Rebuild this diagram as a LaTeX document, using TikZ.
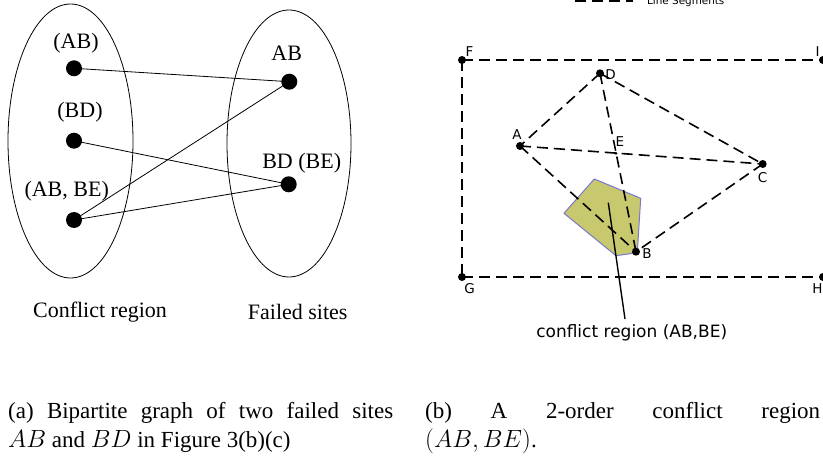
\documentclass[tikz,border=0pt]{standalone}
\usepackage{fontspec}
\setmainfont{Liberation Serif}
\newfontfamily\dejavu{DejaVu Sans}
\usetikzlibrary{shapes.geometric}
\definecolor{polyfill}{RGB}{200,200,110}
\definecolor{polyedge}{RGB}{120,120,205}
\begin{document}
\begin{tikzpicture}[x=1pt,y=-1pt,
  dotL/.style={circle, fill=black, inner sep=0pt, minimum size=16pt},
  dotR/.style={circle, fill=black, inner sep=0pt, minimum size=8pt},
  dotS/.style={circle, fill=black, inner sep=0pt, minimum size=3pt},
  edgeL/.style={line width=0.8pt},
  ellbox/.style={draw, ellipse, line width=0.8pt, inner sep=0pt},
  seg/.style={dash pattern=on 11pt off 6pt, line width=1.6pt},
  lblL/.style={font=\fontsize{22}{26}\selectfont, inner sep=0pt},
  lblR/.style={font=\dejavu\fontsize{13.5}{16}\selectfont, inner sep=0pt},
  capt/.style={font=\fontsize{23}{28}\selectfont, inner sep=0pt, anchor=base west}
]
\useasboundingbox (0,0) rectangle (823,457);

% ---------- (a) bipartite graph ----------
\node[ellbox, minimum width=125pt, minimum height=274pt] (ellL) at (70.5,141) {};
\node[ellbox, minimum width=124pt, minimum height=267pt] (ellR) at (289,143.5) {};

\node[dotL] (l1) at (74,68.3) {};
\node[dotL] (l2) at (74,140.7) {};
\node[dotL] (l3) at (74,220) {};
\node[dotL] (r1) at (289.3,81.7) {};
\node[dotL] (r2) at (288.7,184.3) {};

\draw[edgeL] (l1.center) -- (r1.center);
\draw[edgeL] (l2.center) -- (r2.center);
\draw[edgeL] (l3.center) -- (r1.center);
\draw[edgeL] (l3.center) -- (r2.center);

\node[lblL] (tl1) at (76,43.3) {(AB)};
\node[lblL] (tl2) at (80,112.7) {(BD)};
\node[lblL] (tl3) at (66.7,191.7) {(AB, BE)};
\node[lblL] (tr1) at (286.7,53.3) {AB};
\node[lblL] (tr2) at (301.7,163.3) {BD (BE)};
\node[lblL] (tcr) at (100,311.7) {Conflict region};
\node[lblL] (tfs) at (297.7,311.7) {Failed sites};

% ---------- (b) conflict region ----------
\fill[polyfill] (594.3,179) -- (640.7,198.3) -- (637.3,252.7) -- (616,255.7) -- (564,213.3) -- cycle;
\draw[polyedge, line width=1pt, line join=round] (594.3,179) -- (640.7,198.3) -- (637.3,252.7) -- (616,255.7) -- (564,213.3) -- cycle;

\node[dotR] (F) at (462,60) {};
\node[dotR] (I) at (823,60) {};
\node[dotR] (G) at (462,277) {};
\node[dotR] (H) at (823,277) {};
\node[dotR] (D) at (600,73.3) {};
\node[dotR] (A) at (520,146) {};
\node[dotR] (C) at (762.7,164) {};
\node[dotR] (B) at (636,251.7) {};
\node[dotS] (E) at (616,153.3) {};

\draw[seg] (F.center) -- (I.center);
\draw[seg] (F.center) -- (G.center);
\draw[seg] (G.center) -- (H.center);
\draw[seg] (D.center) -- (A.center);
\draw[seg] (D.center) -- (C.center);
\draw[seg] (D.center) -- (B.center);
\draw[seg] (A.center) -- (C.center);
\draw[seg] (A.center) -- (B.center);
\draw[seg] (C.center) -- (B.center);

\coordinate (ptA) at (608.3,202.7);
\coordinate (ptB) at (625,319);
\draw[line width=1.4pt] (ptA) -- (ptB);

\node[lblR] (lF) at (469.5,52) {F};
\node[lblR] (lI) at (817.5,52) {I};
\node[lblR] (lD) at (610.5,75) {D};
\node[lblR] (lA) at (517,135) {A};
\node[lblR] (lE) at (620,141.5) {E};
\node[lblR] (lC) at (762.7,177.5) {C};
\node[lblR] (lB) at (647,253.5) {B};
\node[lblR] (lG) at (469.5,288.5) {G};
\node[lblR] (lH) at (817.5,288.5) {H};

\node[font=\dejavu\fontsize{17}{20}\selectfont, inner sep=0pt] (crlbl) at (631.7,332.7) {conflict region (AB,BE)};

% legend (cropped at top)
\coordinate (lg1) at (575,0.8);
\coordinate (lg2) at (633,0.8);
\draw[seg] (lg1) -- (lg2);
\node[font=\dejavu\fontsize{10.4}{12}\selectfont, inner sep=0pt, anchor=base west] (lgt) at (647,4.7) {Line Segments};

% ---------- captions ----------
\node[capt] (capA1) at (8,418) {\makebox[385pt][s]{(a) Bipartite graph of two failed sites}};
\node[capt] (capA2) at (8,447) {$AB$ and $BD$ in Figure 3(b)(c)};
\node[capt] (capB1) at (425,418) {\makebox[395pt][s]{(b) A 2-order conflict region}};
\node[capt] (capB2) at (425,447) {$(AB,BE)$.};
\end{tikzpicture}
\end{document}
